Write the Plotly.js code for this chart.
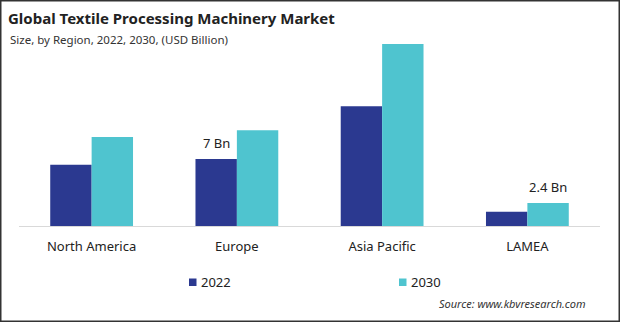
<!DOCTYPE html>
<html>
<head>
<meta charset="utf-8">
<script src="https://cdn.plot.ly/plotly-3.0.1.min.js"></script>
<style>
html,body{margin:0;padding:0;background:#fff;}
#chart{width:620px;height:322px;}
</style>
</head>
<body>
<div id="chart"></div>
<script>
// ---- data ----
const categories = ["North America", "Europe", "Asia Pacific", "LAMEA"];
const seriesNames = ["2022", "2030"];
const values2022 = [6.4, 7.0, 12.5, 1.5];
const values2030 = [9.3, 10.0, 19.0, 2.4];
const labels2022 = ["", "7 Bn", "", ""];
const labels2030 = ["", "", "", "2.4 Bn"];
const titleText = "Global Textile Processing Machinery Market";
const subtitleText = "Size, by Region, 2022, 2030, (USD Billion)";
const sourceText = "Source: www.kbvresearch.com";

// ---- style ----
const colors = ["#2b3990", "#4fc4cf"];
const W = 620, H = 322;
const M = {l: 19, r: 20, t: 40, b: 96};
const pw = W - M.l - M.r, ph = H - M.t - M.b;
const px2x = px => (px - M.l) / pw;
const py2y = py => (H - M.b - py) / ph;
const FONT = "'Noto Sans', 'Open Sans', sans-serif";
const barHalf = pw / categories.length * (1 - 0.43) / 4;

const traces = [
  {type: "bar", name: seriesNames[0], x: categories, y: values2022,
   marker: {color: colors[0]}, hoverinfo: "x+y"},
  {type: "bar", name: seriesNames[1], x: categories, y: values2030,
   marker: {color: colors[1]}, hoverinfo: "x+y"}
];

const annotations = [];
[[labels2022, values2022, -barHalf], [labels2030, values2030, barHalf]].forEach(([labs, vals, xs]) => {
  labs.forEach((t, i) => {
    if (!t) return;
    annotations.push({x: categories[i], y: vals[i], xref: "x", yref: "y", text: t,
      showarrow: false, xshift: xs, yshift: 16, yanchor: "middle", xanchor: "center",
      font: {family: FONT, size: 13, color: "#222"}});
  });
});
annotations.push({xref: "paper", yref: "paper", x: px2x(8), y: py2y(39), xanchor: "left", yanchor: "middle",
  text: subtitleText, showarrow: false, font: {family: FONT, size: 11.5, color: "#333"}});
annotations.push({xref: "paper", yref: "paper", x: px2x(588), y: py2y(303), xanchor: "right", yanchor: "middle",
  text: "<i>" + sourceText + "</i>", showarrow: false, font: {family: FONT, size: 11, color: "#333"}});

const legendPos = [189, 399];
const shapes = [
  {type: "rect", xref: "paper", yref: "paper", x0: px2x(0.75), x1: px2x(619.25), y0: py2y(321.25), y1: py2y(0.75),
   line: {color: "#333", width: 1.5}, fillcolor: "rgba(0,0,0,0)"}
];
seriesNames.forEach((n, i) => {
  const x0 = legendPos[i];
  shapes.push({type: "rect", xref: "paper", yref: "paper", x0: px2x(x0), x1: px2x(x0 + 7.5),
    y0: py2y(286), y1: py2y(278.5), line: {width: 0}, fillcolor: colors[i]});
  annotations.push({xref: "paper", yref: "paper", x: px2x(x0 + 10), y: py2y(282), xanchor: "left", yanchor: "middle",
    text: n, showarrow: false, font: {family: FONT, size: 13, color: "#222"}});
});

const layout = {
  width: W, height: H,
  margin: M,
  paper_bgcolor: "#fff", plot_bgcolor: "#fff",
  title: {text: "<b>" + titleText + "</b>", x: 8 / W, xref: "container", xanchor: "left",
    y: 1 - 19 / H, yref: "container", yanchor: "middle",
    font: {family: FONT, size: 15, color: "#222"}},
  barmode: "group", bargap: 0.43, bargroupgap: 0,
  showlegend: false,
  xaxis: {showline: true, linecolor: "#d9d9d9", linewidth: 1, ticks: "", showgrid: false,
    tickfont: {family: FONT, size: 13, color: "#222"}, ticklabelstandoff: 8, fixedrange: true},
  yaxis: {visible: false, range: [0, ph / 9.58], showgrid: false, zeroline: false, fixedrange: true},
  annotations: annotations,
  shapes: shapes
};

Plotly.newPlot("chart", traces, layout, {displayModeBar: false, staticPlot: true});
</script>
</body>
</html>
